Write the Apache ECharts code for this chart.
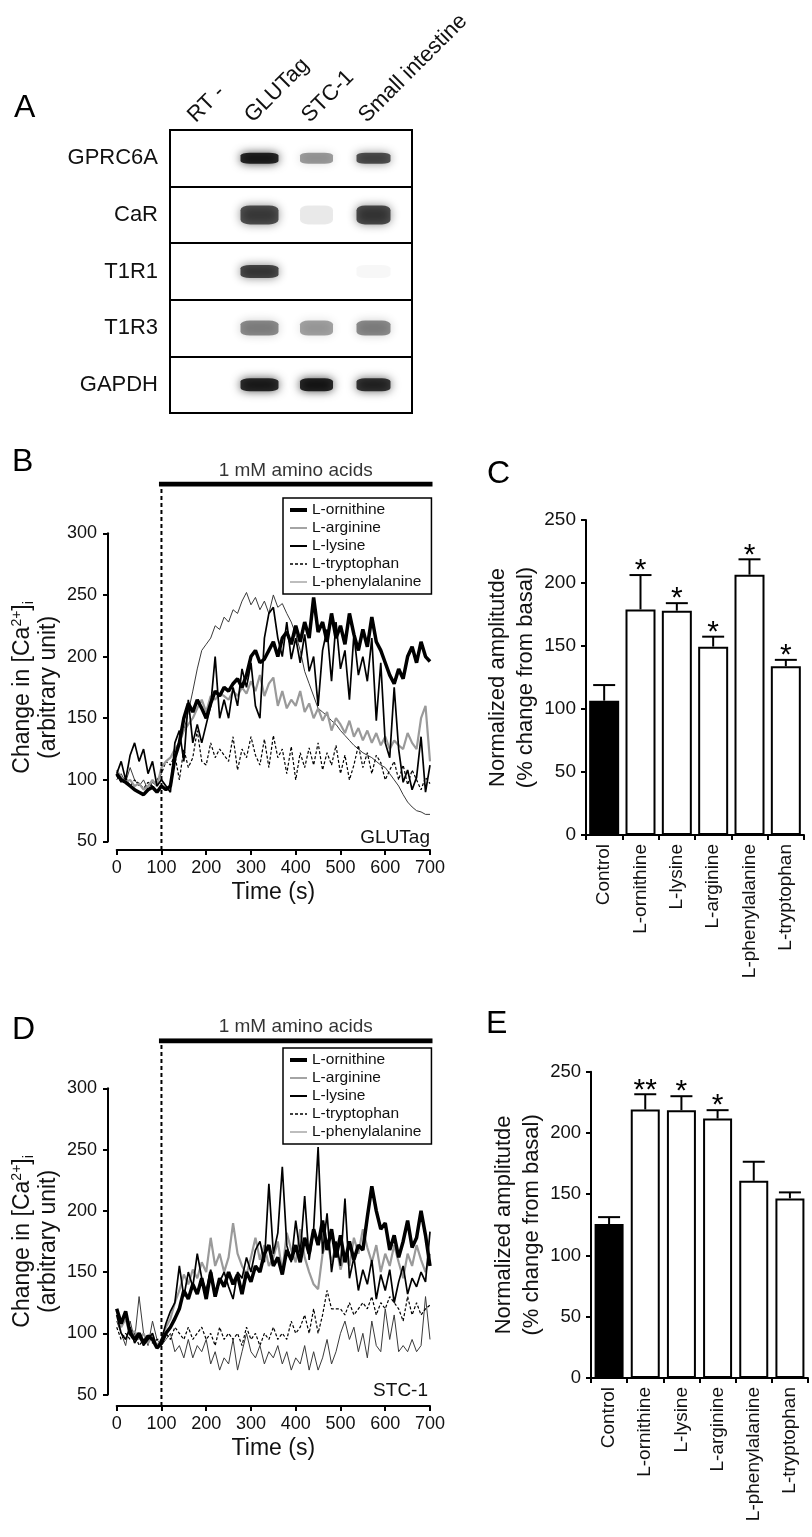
<!DOCTYPE html>
<html><head><meta charset="utf-8">
<script src="https://cdn.jsdelivr.net/npm/echarts@6/dist/echarts.min.js"></script>
<style>html,body{margin:0;padding:0;background:#fff}#c{width:812px;height:1537px}</style>
</head><body><div id="c"></div>
<script>
// ---------- DATA ----------
const LANES = ['RT -', 'GLUTag', 'STC-1', 'Small intestine'];
const GENES = ['GPRC6A', 'CaR', 'T1R1', 'T1R3', 'GAPDH'];
// band intensity (0..1) per gene row, per lane
const BAND_GPRC6A = [0, 1.0, 0.45, 0.78];
const BAND_CAR    = [0, 0.78, 0.10, 0.80];
const BAND_T1R1   = [0, 0.82, 0, 0.04];
const BAND_T1R3   = [0, 0.52, 0.42, 0.52];
const BAND_GAPDH  = [0, 0.97, 1.0, 0.92];

const TRACE_NAMES = ['L-ornithine', 'L-arginine', 'L-lysine', 'L-tryptophan', 'L-phenylalanine'];
const TIME = [0,10,20,30,40,50,60,70,80,90,100,110,120,130,140,150,160,170,180,190,200,210,220,230,240,250,260,270,280,290,300,310,320,330,340,350,360,370,380,390,400,410,420,430,440,450,460,470,480,490,500,510,520,530,540,550,560,570,580,590,600,610,620,630,640,650,660,670,680,690,700];
const STIM = [100, 700];
const STIM_LABEL = '1 mM amino acids';
const TIME_TICKS = [0, 700, 100];
const CA_TICKS = [50, 300, 50];

// Panel B (GLUTag)
const B_ORN = [105,100,98,95,92,90,88,92,94,90, 95,92,95,118,130,150,162,155,165,158, 150,162,172,168,175,172,178,182,175,185, 200,205,195,198,205,212,200,215,220,210, 225,212,228,215,248,220,228,212,235,215, 225,210,235,218,205,222,208,232,212,205, 195,185,178,190,182,200,208,195,212,200, 196];
const B_ARG = [108,102,98,100,95,97,92,95,100,95, 110,115,118,125,130,140,145,150,158,165, 155,168,165,170,168,165,172,168,175,170, 180,172,185,168,178,183,160,172,158,165, 160,172,155,162,150,158,148,155,140,150, 145,138,148,135,142,132,140,130,138,128, 135,125,132,128,125,138,130,125,150,160, 115];
const B_LYS = [105,115,100,120,130,115,125,105,115,95, 100,95,90,130,140,115,165,130,145,130, 145,160,200,150,165,150,175,160,190,175, 195,160,150,215,235,240,215,200,228,198, 215,195,218,188,200,160,205,222,180,228, 190,205,165,218,185,200,180,215,148,195, 130,118,175,125,98,108,92,102,135,90, 112];
const B_TRP = [103,98,102,95,100,97,93,98,95,100, 105,115,112,120,100,125,110,118,140,115, 112,130,118,125,120,115,135,108,125,118, 135,120,112,133,110,136,118,125,105,127, 100,122,110,126,112,130,108,122,112,128, 105,120,100,112,128,110,122,105,120,114, 100,108,115,100,112,96,108,100,92,102, 97];
const B_PHE = [100,105,98,110,100,95,100,92,98,95, 110,115,118,125,130,140,155,172,190,205, 210,215,225,222,232,228,238,235,245,252, 242,248,238,245,235,250,240,243,235,228, 218,205,188,178,168,158,155,152,148,145, 140,136,132,128,125,122,120,118,115,112, 110,105,100,95,88,82,78,75,74,72, 72];

// Panel D (STC-1)
const D_ORN = [120,108,118,100,95,100,92,98,95,88, 92,100,105,112,120,135,128,140,132,145, 128,150,130,145,138,150,140,148,132,150, 142,155,150,165,172,155,162,148,168,160, 172,158,178,165,185,172,192,168,185,162, 180,158,175,160,172,168,195,220,200,185, 190,168,180,162,175,192,170,178,200,180, 155];
const D_ARG = [118,105,112,98,102,95,100,92,98,90, 95,105,112,125,135,148,140,152,145,158, 150,178,155,165,150,162,190,165,155,148, 162,178,160,172,155,162,175,150,182,168, 158,185,162,150,140,136,165,175,158,172, 152,165,155,178,165,185,170,158,172,150, 165,155,172,158,145,165,155,172,160,150, 165];
const D_LYS = [115,100,95,105,92,98,90,95,100,88, 95,108,118,125,155,130,150,138,165,145, 135,152,132,142,150,138,128,150,145,162, 150,168,175,158,222,165,182,236,172,158, 192,165,212,160,185,252,165,198,150,175, 155,210,145,162,135,152,140,160,128,148, 135,152,125,142,155,132,145,138,150,142, 183];
const D_TRP = [105,95,100,95,100,90,95,98,92,95, 95,100,95,105,100,95,105,95,100,105, 95,100,90,105,95,100,95,100,90,105, 95,100,90,100,95,105,95,100,95,110, 100,105,115,100,120,100,115,135,120,120, 120,115,125,115,120,125,120,130,115,125, 120,130,125,120,110,130,115,125,115,120, 123];
const D_PHE = [110,100,90,110,95,130,100,90,110,95, 90,95,100,85,90,80,95,80,90,85, 95,75,85,70,80,75,95,70,85,100, 85,80,90,75,85,80,90,75,85,70, 80,75,90,70,85,70,80,95,75,85, 100,110,95,105,85,100,80,110,90,85, 120,95,115,85,90,85,95,85,90,130, 95];

// Bar charts
const BAR_CATS = ['Control', 'L-ornithine', 'L-lysine', 'L-arginine', 'L-phenylalanine', 'L-tryptophan'];
const AMP_TICKS = [0, 250, 50];
const C_MEAN = [106.6, 179, 178, 149.5, 206.6, 134];
const C_ERR  = [119, 206.3, 184, 157.4, 218.8, 139];
const C_SIG  = ['', '*', '*', '*', '*', '*'];
const E_MEAN = [125.6, 219.2, 218.6, 211.8, 161, 146.6];
const E_ERR  = [131.3, 231.6, 230, 218.6, 176.5, 151.5];
const E_SIG  = ['', '**', '*', '*', '', ''];

// ---------- STYLE ----------
const FONT = "'Liberation Sans', Arial, Helvetica, sans-serif";
const INK = '#111';
const BAND_W = [0, 38, 33, 34];
const BAND_H = [11, 19, 13, 15, 13];
const TRACE_STYLE = {
  'L-ornithine':     {color:'#000', width:3.5, type:'solid', legendColor:'#000', legendWidth:4},
  'L-arginine':      {color:'#9a9a9a', width:2.2, type:'solid', legendColor:'#9a9a9a', legendWidth:1.8},
  'L-lysine':        {color:'#000', width:1.7, type:'solid', legendColor:'#000', legendWidth:2},
  'L-tryptophan':    {color:'#000', width:1.2, type:[3,2], legendColor:'#000', legendWidth:1.3},
  'L-phenylalanine': {color:'#3a3a3a', width:1, type:'solid', legendColor:'#999', legendWidth:1.3}
};
const DRAW_ORDER = ['L-phenylalanine', 'L-tryptophan', 'L-arginine', 'L-lysine', 'L-ornithine'];

const chart = echarts.init(document.getElementById('c'), null, {renderer:'canvas'});

const BAND_ROWS = [BAND_GPRC6A, BAND_CAR, BAND_T1R1, BAND_T1R3, BAND_GAPDH];
const bandData = [];
BAND_ROWS.forEach((row, j) => row.forEach((a, i) => {
  if (a > 0) bandData.push({
    value: [i, j, a],
    symbolSize: [BAND_W[i], BAND_H[j]],
    itemStyle: {color: 'rgba(0,0,0,' + a + ')', shadowBlur: 10, shadowColor: 'rgba(0,0,0,' + (a * 0.9) + ')'}
  });
}));

const axisLineStyle = {color:'#000', width:2};
function traceXAxis(gi, offset) {
  return {gridIndex: gi, type:'value', min: TIME_TICKS[0], max: TIME_TICKS[1], interval: TIME_TICKS[2], offset: offset,
    axisLine:{show:true, onZero:false, lineStyle:axisLineStyle},
    axisTick:{show:true, length:5, lineStyle:{color:'#000', width:2}},
    axisLabel:{fontSize:18, color:INK, margin:9, fontFamily:FONT},
    splitLine:{show:false},
    name:'Time (s)', nameLocation:'middle', nameGap:31,
    nameTextStyle:{fontSize:23, color:INK, fontFamily:FONT}};
}
function traceYAxis(gi, offset) {
  return {gridIndex: gi, type:'value', min: CA_TICKS[0], max: CA_TICKS[1], interval: CA_TICKS[2], offset: offset,
    axisLine:{show:true, onZero:false, lineStyle:axisLineStyle},
    axisTick:{show:true, length:5, lineStyle:{color:'#000', width:2}},
    axisLabel:{fontSize:18, color:INK, margin:11, fontFamily:FONT},
    splitLine:{show:false},
    name:'{t|Change in [Ca}{sup|2+}{t|]}{sub|i}\n{t|(arbitrary unit)}',
    nameLocation:'middle', nameRotate:90, nameGap:46,
    nameTextStyle:{color:INK, fontFamily:FONT, fontSize:23, lineHeight:26,
      rich:{t:{fontSize:23, lineHeight:26, fontFamily:FONT, color:INK},
            sup:{fontSize:14, lineHeight:14, verticalAlign:'top', fontFamily:FONT, color:INK},
            sub:{fontSize:14, lineHeight:12, verticalAlign:'bottom', fontFamily:FONT, color:INK}}}};
}
function hiddenAxis(gi, type, min, max) { return {gridIndex: gi, type: type, min: min, max: max, show:false, splitLine:{show:false}}; }
function barXAxis(gi) {
  return {gridIndex: gi, type:'category', data: BAR_CATS,
    axisLine:{show:true, lineStyle:axisLineStyle},
    axisTick:{show:true, length:5, lineStyle:{color:'#000', width:2}},
    axisLabel:{rotate:90, interval:0, fontSize:19, margin:9, color:INK, fontFamily:FONT}};
}
function barYAxis(gi, gap, fs) {
  return {gridIndex: gi, type:'value', min: AMP_TICKS[0], max: AMP_TICKS[1], interval: AMP_TICKS[2],
    axisLine:{show:true, lineStyle:axisLineStyle},
    axisTick:{show:true, length:5, lineStyle:{color:'#000', width:2}},
    axisLabel:{fontSize:fs, color:INK, margin:10, fontFamily:FONT},
    splitLine:{show:false},
    name:'Normalized amplitutde\n(% change from basal)', nameLocation:'middle', nameRotate:90, nameGap:gap,
    nameTextStyle:{fontSize:22, lineHeight:28, color:INK, fontFamily:FONT}};
}

function traceSeries(xi, yi, set) {
  return DRAW_ORDER.map(n => ({
    type:'line', name:n, xAxisIndex:xi, yAxisIndex:yi, symbol:'none', showSymbol:false,
    data: TIME.map((t, k) => [t, set[n][k]]),
    lineStyle:{color:TRACE_STYLE[n].color, width:TRACE_STYLE[n].width, type:TRACE_STYLE[n].type},
    itemStyle:{color:TRACE_STYLE[n].color}, z: 2
  }));
}
function stimSeries(xi, yi) {
  return [
    {type:'line', xAxisIndex:xi, yAxisIndex:yi, symbol:'none', data:[[STIM[0],1],[STIM[1],1]],
     lineStyle:{color:'#000', width:5, cap:'square'}, silent:true},
    {type:'line', xAxisIndex:xi, yAxisIndex:yi, symbol:'none', data:[[STIM[0],0],[STIM[0],1]],
     lineStyle:{color:'#000', width:2, type:[4,3]}, silent:true},
    {type:'scatter', xAxisIndex:xi, yAxisIndex:yi, symbolSize:0, data:[[(STIM[0]+STIM[1])/2, 1]], silent:true,
     label:{show:true, position:'top', distance:4, formatter:STIM_LABEL, fontSize:19, color:'#000', fontFamily:FONT}}
  ];
}
function barSeries(xi, yi, mean, err, sig, bw) {
  return [
    {type:'bar', xAxisIndex:xi, yAxisIndex:yi, barWidth:bw,
     data: mean.map((v, i) => ({value:v, itemStyle:{color: i === 0 ? '#000' : '#fff'}})),
     itemStyle:{borderColor:'#000', borderWidth:2}},
    {type:'custom', xAxisIndex:xi, yAxisIndex:yi, z:5,
     data: mean.map((v, i) => [i, v, err[i]]),
     encode:{x:0, y:[1,2]},
     renderItem: function(params, api) {
       const p0 = api.coord([api.value(0), api.value(1)]);
       const p1 = api.coord([api.value(0), api.value(2)]);
       const half = 11;
       const ch = [
         {type:'line', shape:{x1:p0[0], y1:p0[1], x2:p1[0], y2:p1[1]}, style:{stroke:'#000', lineWidth:2}},
         {type:'line', shape:{x1:p0[0]-half, y1:p1[1], x2:p0[0]+half, y2:p1[1]}, style:{stroke:'#000', lineWidth:2}}
       ];
       const s = sig[params.dataIndex];
       if (s) ch.push({type:'text', x:p0[0], y:p1[1]-4, style:{text:s, fontSize:30, fontFamily:FONT, fill:'#000', align:'center', verticalAlign:'middle'}});
       return {type:'group', children: ch};
     }}
  ];
}

const B_SET = {'L-ornithine':B_ORN, 'L-arginine':B_ARG, 'L-lysine':B_LYS, 'L-tryptophan':B_TRP, 'L-phenylalanine':B_PHE};
const D_SET = {'L-ornithine':D_ORN, 'L-arginine':D_ARG, 'L-lysine':D_LYS, 'L-tryptophan':D_TRP, 'L-phenylalanine':D_PHE};

function legendAt(top) {
  return {data: TRACE_NAMES.map(n => ({name:n, lineStyle:{width:TRACE_STYLE[n].legendWidth, color:TRACE_STYLE[n].legendColor, type:TRACE_STYLE[n].type}})),
    orient:'vertical', left:283, top: top, itemWidth:17, itemHeight:14, itemGap:2,
    padding:[4,10,4,5], borderColor:'#000', borderWidth:1.5, backgroundColor:'#fff', selectedMode:false,
    itemStyle:{opacity:0, borderWidth:0},
    textStyle:{fontSize:15.5, lineHeight:15.5, color:INK, fontFamily:FONT}};
}
const letter = (t, l, tp) => ({text:t, left:l, top:tp, padding:0, textStyle:{fontSize:32, fontWeight:'normal', color:'#000', fontFamily:FONT}});

const option = {
  animation:false,
  backgroundColor:'#fff',
  textStyle:{fontFamily:FONT},
  title:[
    letter('A', 14, 92), letter('B', 12, 446), letter('C', 487, 458), letter('D', 12, 1014), letter('E', 486, 1008),
    {text:'GLUTag', right:382, top:828, padding:0, textStyle:{fontSize:19, fontWeight:'normal', color:INK, fontFamily:FONT}},
    {text:'STC-1', right:384, top:1381.5, padding:0, textStyle:{fontSize:19, fontWeight:'normal', color:INK, fontFamily:FONT}}
  ],
  legend:[legendAt(498), legendAt(1048)],
  grid:[
    {left:170, top:130, width:242, height:283, show:true, borderColor:'#000', borderWidth:2, backgroundColor:'transparent'},
    {left:174, top:130, width:228, height:283},
    {left:163, top:130, width:228, height:283},
    {left:116.7, top:533.3, width:313.3, height:308.2},
    {left:116.7, top:484, width:313.3, height:366},
    {left:586, top:520, width:218, height:315},
    {left:116.7, top:1088.3, width:313.3, height:306.3},
    {left:116.7, top:1040.7, width:313.3, height:365.3},
    {left:591, top:1071.7, width:217, height:306.3}
  ],
  xAxis:[
    hiddenAxis(0, 'value', 0, 1),
    {gridIndex:1, type:'category', data:LANES, show:false},
    {gridIndex:2, type:'category', data:LANES, position:'top', axisLine:{show:false}, axisTick:{show:false},
     axisLabel:{rotate:45, interval:0, margin:11, fontSize:22, color:INK, fontFamily:FONT}},
    traceXAxis(3, 8.5),
    hiddenAxis(4, 'value', TIME_TICKS[0], TIME_TICKS[1]),
    barXAxis(5),
    traceXAxis(6, 11.4),
    hiddenAxis(7, 'value', TIME_TICKS[0], TIME_TICKS[1]),
    barXAxis(8)
  ],
  yAxis:[
    {gridIndex:0, type:'category', data:GENES, inverse:true, axisLine:{show:false}, axisTick:{show:false},
     axisLabel:{fontSize:22, margin:12, color:INK, fontFamily:FONT},
     splitLine:{show:true, interval:0, lineStyle:{color:'#000', width:2}}},
    {gridIndex:1, type:'category', data:GENES, inverse:true, show:false},
    hiddenAxis(2, 'value', 0, 1),
    traceYAxis(3, 8.7),
    hiddenAxis(4, 'value', 0, 1),
    barYAxis(5, 41, 19),
    traceYAxis(6, 8.7),
    hiddenAxis(7, 'value', 0, 1),
    barYAxis(8, 45, 18.5)
  ],
  series:[
    {type:'scatter', xAxisIndex:1, yAxisIndex:1, symbol:'roundRect', data:bandData, silent:true},
    ...traceSeries(3, 3, B_SET),
    ...stimSeries(4, 4),
    ...barSeries(5, 5, C_MEAN, C_ERR, C_SIG, 30),
    ...traceSeries(6, 6, D_SET),
    ...stimSeries(7, 7),
    ...barSeries(8, 8, E_MEAN, E_ERR, E_SIG, 29)
  ]
};
chart.setOption(option);
</script></body></html>
